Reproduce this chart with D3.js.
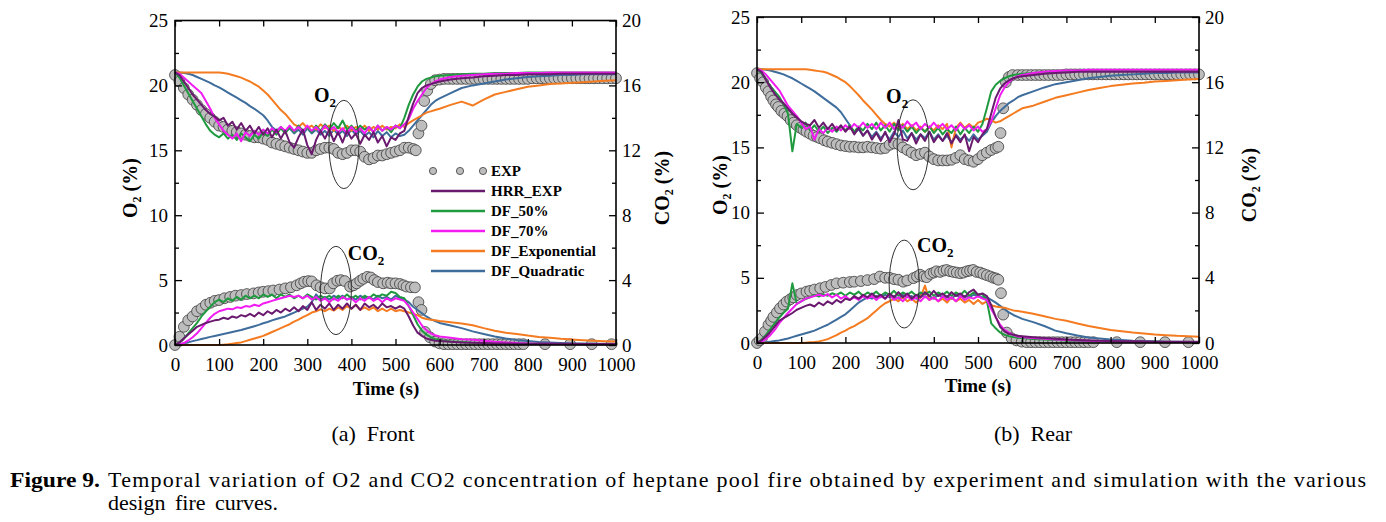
<!DOCTYPE html>
<html>
<head>
<meta charset="utf-8">
<script src="https://cdn.jsdelivr.net/npm/d3@7"></script>
<style>
  body { margin: 0; background: #fff; }
  svg, svg text { font-family: "Liberation Serif", "Times New Roman", Tinos, "DejaVu Serif Condensed", serif; }
  svg { display: block; }
  .tick text { font-size: 19px; fill: #000; }
  .tick line { stroke: #000; stroke-width: 1.3; }
  .axis-title { font-size: 20px; font-weight: bold; }
</style>
</head>
<body>
<div id="wrapper"></div>
<script>

// 1. Data

// simulation output sampled every 10 s up to 590 s, then every 25 s
const timeGrid = d3.range(0, 600, 10).concat(d3.range(600, 1001, 25));

const seriesNames = ["HRR_EXP", "DF_50%", "DF_70%", "DF_Exponential", "DF_Quadratic"];
const seriesColors = ["#6a1a6e", "#1f9a3f", "#f21cf2", "#f47b20", "#3e6d9c"];
const drawOrder = [4, 3, 1, 2, 0];

const xTicks = d3.range(0, 1001, 100);
const o2Ticks = [0, 5, 10, 15, 20, 25];
const o2MinorTicks = [2.5, 7.5, 12.5, 17.5, 22.5];
const co2Ticks = [0, 4, 8, 12, 16, 20];
const co2MinorTicks = [2, 6, 10, 14, 18];

// ---- (a) Front : O2 (%) ----
const frontO2Hrr = [
  21.0, 20.8, 20.3, 19.8, 19.3, 18.9, 18.5, 18.1, 17.8, 17.6,
  17.3, 17.5, 16.9, 17.2, 16.6, 17.1, 16.5, 16.9, 16.3, 16.8,
  16.2, 16.7, 16.0, 16.6, 15.9, 16.5, 15.6, 15.2, 16.0, 16.6,
  15.4, 14.7, 15.8, 16.5, 15.9, 16.6, 15.7, 16.4, 15.6, 16.5,
  15.9, 16.3, 15.5, 16.2, 15.8, 16.4, 15.6, 16.1, 15.3, 16.0,
  15.8, 16.3, 16.5, 17.6, 18.6, 19.4, 19.8, 20.0, 20.1, 20.2,
  20.3, 20.45, 20.55, 20.6, 20.7, 20.75, 20.8, 20.8, 20.85, 20.85, 20.85, 20.9, 20.9, 20.9, 20.9, 20.9, 20.9
];
const frontO2Df50 = [
  21.0, 20.6, 20.0, 19.4, 18.8, 18.2, 17.6, 17.0, 16.5, 16.2,
  16.0, 16.3, 15.9, 16.2, 15.8, 16.3, 16.0, 15.7, 16.2, 15.9,
  16.4, 16.1, 16.6, 16.2, 16.7, 16.3, 16.8, 16.4, 16.9, 16.5,
  16.8, 16.4, 16.9, 16.5, 17.0, 16.6, 17.1, 16.7, 17.3, 16.6,
  16.9, 16.5, 16.9, 16.6, 16.8, 16.4, 16.9, 16.5, 16.8, 16.4,
  16.9, 16.7, 17.5, 18.5, 19.3, 19.9, 20.3, 20.5, 20.6, 20.7,
  20.75, 20.8, 20.85, 20.9, 20.9, 20.95, 20.95, 20.95, 21.0, 21.0, 21.0, 21.0, 21.0, 21.0, 21.0, 21.0, 21.0
];
const frontO2Df70 = [
  21.0, 20.9, 20.6, 20.3, 20.0, 19.7, 19.4, 18.8, 18.2, 17.5,
  17.0, 16.5, 16.2, 15.9, 16.3, 15.7, 16.4, 16.1, 16.5, 16.2,
  16.6, 16.3, 16.7, 16.4, 16.8, 16.5, 16.9, 16.5, 16.8, 16.4,
  16.9, 16.5, 16.8, 16.4, 16.9, 16.5, 16.8, 16.4, 16.7, 16.3,
  16.8, 16.4, 16.7, 16.3, 16.8, 16.4, 16.9, 16.5, 16.8, 16.6,
  16.9, 16.7, 17.0, 17.4, 18.2, 18.8, 19.3, 19.8, 20.1, 20.3,
  20.45, 20.65, 20.75, 20.8, 20.85, 20.9, 20.9, 20.95, 20.95, 20.95, 21.0, 21.0, 21.0, 21.0, 21.0, 21.0, 21.0
];
const frontO2Exp = [
  21.0, 21.0, 21.0, 21.0, 21.0, 21.0, 21.0, 21.0, 21.0, 21.0,
  21.0, 20.95, 20.9, 20.8, 20.7, 20.6, 20.45, 20.3, 20.1, 19.9,
  19.6, 19.3, 18.9, 18.5, 18.1, 17.8, 17.4, 17.0, 16.8, 17.1,
  16.7, 16.9, 16.6, 17.0, 16.7, 16.9, 16.5, 16.8, 16.6, 16.9,
  16.5, 16.8, 16.6, 16.9, 16.5, 16.8, 16.6, 16.9, 16.6, 16.8,
  16.7, 17.0, 16.8, 17.1, 17.3, 17.5, 17.7, 17.9, 18.0, 18.1,
  18.2, 18.5, 18.75, 18.45, 18.9, 19.3, 19.5, 19.7, 19.9, 20.0, 20.1, 20.15, 20.2, 20.25, 20.3, 20.35, 20.4
];
const frontO2Quad = [
  21.0, 21.0, 20.95, 20.9, 20.8, 20.65, 20.5, 20.35, 20.2, 20.0,
  19.85, 19.65, 19.45, 19.25, 19.05, 18.85, 18.65, 18.4, 18.2, 17.95,
  17.7, 17.3, 16.8, 16.5, 16.8, 16.4, 16.7, 16.3, 16.6, 16.2,
  16.7, 16.3, 16.6, 16.2, 16.5, 16.1, 16.6, 16.2, 16.5, 16.1,
  16.6, 16.2, 16.5, 16.1, 16.4, 16.0, 16.5, 16.1, 16.4, 16.0,
  16.3, 16.1, 16.2, 16.5, 16.9, 17.3, 17.7, 18.1, 18.5, 18.8,
  19.0, 19.4, 19.8, 20.0, 20.15, 20.3, 20.45, 20.55, 20.65, 20.7, 20.75, 20.8, 20.8, 20.85, 20.85, 20.85, 20.85
];

// ---- (a) Front : CO2 (%) ----
const frontCo2Hrr = [
  0, 0.16, 0.4, 0.64, 0.88, 1.12, 1.24, 1.36, 1.44, 1.52,
  1.56, 1.68, 1.6, 1.76, 1.68, 1.84, 1.76, 1.92, 1.76, 2.0,
  1.84, 2.08, 1.92, 2.16, 2.0, 2.24, 2.08, 2.32, 2.08, 2.4,
  2.16, 2.64, 2.16, 2.48, 2.24, 2.56, 2.16, 2.48, 2.24, 2.56,
  2.24, 2.48, 2.16, 2.56, 2.32, 2.48, 2.24, 2.56, 2.32, 2.4,
  2.24, 2.4, 2.24, 1.76, 1.2, 0.76, 0.56, 0.4, 0.32, 0.26,
  0.24, 0.2, 0.16, 0.14, 0.12, 0.1, 0.1, 0.08, 0.08, 0.08, 0.07, 0.07, 0.07, 0.06, 0.06, 0.06, 0.06
];
const frontCo2Df50 = [
  0, 0.16, 0.4, 0.72, 1.04, 1.36, 1.76, 2.08, 2.36, 2.64,
  2.8, 2.64, 2.88, 2.72, 2.96, 2.8, 3.04, 2.88, 3.04, 2.88,
  3.12, 2.96, 3.12, 2.88, 3.12, 2.96, 3.12, 2.88, 3.04, 2.88,
  3.12, 2.96, 2.8, 3.04, 2.88, 3.04, 2.8, 3.04, 2.88, 3.12,
  2.88, 3.04, 2.8, 3.04, 2.88, 3.12, 2.96, 3.12, 3.04, 3.28,
  3.2, 2.96, 2.88, 2.4, 1.84, 1.28, 0.88, 0.64, 0.48, 0.36,
  0.3, 0.22, 0.18, 0.14, 0.12, 0.1, 0.09, 0.08, 0.07, 0.07, 0.06, 0.06, 0.06, 0.05, 0.05, 0.05, 0.05
];
const frontCo2Df70 = [
  0, 0.04, 0.12, 0.28, 0.48, 0.72, 1.04, 1.36, 1.68, 1.92,
  2.08, 2.16, 2.24, 2.2, 2.32, 2.28, 2.4, 2.36, 2.48, 2.4,
  2.56, 2.64, 2.72, 2.8, 2.88, 2.96, 3.04, 2.96, 3.04, 2.88,
  3.04, 2.8, 2.96, 2.72, 2.88, 2.64, 2.88, 2.72, 2.96, 2.8,
  2.88, 2.64, 2.88, 2.72, 2.96, 2.72, 2.88, 2.64, 2.88, 2.72,
  2.88, 2.8, 2.72, 2.4, 2.0, 1.6, 1.2, 0.92, 0.72, 0.6,
  0.52, 0.44, 0.36, 0.32, 0.26, 0.2, 0.16, 0.12, 0.1, 0.08, 0.07, 0.06, 0.06, 0.05, 0.05, 0.05, 0.05
];
const frontCo2Exp = [
  0, 0, 0, 0, 0, 0, 0, 0, 0, 0,
  0, 0.02, 0.04, 0.08, 0.12, 0.16, 0.24, 0.32, 0.4, 0.48,
  0.56, 0.68, 0.8, 0.92, 1.04, 1.16, 1.28, 1.44, 1.56, 1.72,
  1.84, 2.0, 2.08, 2.2, 2.08, 2.24, 2.12, 2.32, 2.16, 2.4,
  2.24, 2.48, 2.16, 2.32, 2.16, 2.32, 2.08, 2.24, 2.08, 2.24,
  2.08, 2.16, 2.08, 2.0, 1.92, 1.84, 1.68, 1.6, 1.56, 1.52,
  1.48, 1.4, 1.32, 1.22, 1.04, 0.88, 0.76, 0.68, 0.58, 0.5, 0.44, 0.38, 0.34, 0.3, 0.26, 0.23, 0.21
];
const frontCo2Quad = [
  0, 0.04, 0.1, 0.16, 0.24, 0.3, 0.37, 0.43, 0.5, 0.56,
  0.62, 0.68, 0.74, 0.8, 0.86, 0.92, 1.0, 1.08, 1.16, 1.24,
  1.34, 1.42, 1.52, 1.6, 1.68, 1.76, 1.88, 2.0, 2.12, 2.24,
  2.36, 2.64, 3.12, 2.8, 2.96, 2.8, 3.04, 2.88, 3.04, 2.8,
  2.96, 2.8, 3.04, 2.88, 2.96, 2.8, 3.04, 2.88, 2.96, 2.8,
  3.04, 2.88, 2.8, 2.64, 2.36, 2.16, 1.96, 1.76, 1.6, 1.48,
  1.36, 1.2, 1.04, 0.84, 0.68, 0.52, 0.4, 0.3, 0.24, 0.19, 0.16, 0.13, 0.1, 0.09, 0.08, 0.07, 0.06
];

// ---- (b) Rear : O2 (%) ----
const rearO2Hrr = [
  21.0, 20.8, 20.2, 19.6, 19.1, 18.7, 18.4, 18.0, 17.6, 17.3,
  17.0, 16.8, 16.7, 17.1, 16.5, 16.9, 16.4, 16.8, 16.3, 16.7,
  16.2, 16.6, 16.0, 16.5, 15.9, 16.3, 15.6, 16.1, 15.5, 16.2,
  15.4, 16.0, 17.1, 15.6, 15.5, 16.1, 15.3, 16.0, 15.5, 16.2,
  15.4, 15.9, 15.5, 16.1, 15.3, 15.9, 15.4, 16.0, 14.7, 15.8,
  15.4, 16.0, 16.4, 17.6, 18.8, 19.5, 19.9, 20.15, 20.3, 20.4,
  20.45, 20.55, 20.65, 20.7, 20.75, 20.8, 20.8, 20.8, 20.8, 20.8, 20.8, 20.8, 20.8, 20.8, 20.8, 20.8, 20.8
];
const rearO2Df50 = [
  21.0, 20.7, 20.2, 19.7, 19.3, 18.9, 18.3, 17.6, 14.7, 16.8,
  16.5, 16.9, 16.3, 16.7, 16.2, 16.6, 16.1, 16.5, 16.2, 16.6,
  16.3, 16.7, 16.2, 16.6, 16.3, 16.8, 16.4, 16.9, 16.3, 16.7,
  16.2, 16.8, 16.3, 16.7, 16.2, 16.6, 16.1, 16.5, 16.2, 16.6,
  16.1, 16.5, 16.0, 16.4, 16.1, 16.6, 16.0, 16.5, 16.1, 16.6,
  16.2, 16.8, 18.0, 19.3, 19.8, 20.1, 20.3, 20.45, 20.55, 20.6,
  20.65, 20.7, 20.75, 20.8, 20.85, 20.85, 20.9, 20.9, 20.9, 20.9, 20.9, 20.9, 20.9, 20.9, 20.9, 20.9, 20.9
];
const rearO2Df70 = [
  21.0, 20.9, 20.6, 20.2, 19.8, 19.4, 18.8, 18.2, 17.8, 17.4,
  16.9, 16.4, 16.6, 15.6, 16.4, 16.1, 16.5, 16.2, 16.6, 16.3,
  16.7, 16.4, 16.8, 16.5, 16.9, 16.5, 16.8, 16.4, 16.9, 16.5,
  16.9, 16.4, 16.8, 16.5, 17.0, 16.6, 16.9, 16.4, 16.8, 16.5,
  16.9, 16.5, 16.8, 16.4, 16.7, 16.3, 16.8, 16.4, 16.7, 16.3,
  16.6, 16.2, 16.4, 17.0, 18.0, 19.0, 19.6, 20.0, 20.3, 20.45,
  20.55, 20.7, 20.8, 20.85, 20.9, 20.9, 20.95, 20.95, 20.95, 20.95, 20.95, 20.95, 20.95, 20.95, 20.95, 20.95, 20.95
];
const rearO2Exp = [
  21.0, 21.0, 21.0, 21.0, 21.0, 21.0, 21.0, 21.0, 21.0, 21.0,
  21.0, 21.0, 20.95, 20.9, 20.85, 20.8, 20.7, 20.55, 20.4, 20.2,
  20.0, 19.7, 19.35, 19.0, 18.6, 18.25, 17.9, 17.5, 17.1, 16.8,
  16.6, 16.9, 16.5, 16.8, 16.4, 16.7, 16.3, 16.6, 16.2, 16.6,
  16.3, 16.7, 16.4, 16.8, 15.0, 16.5, 16.9, 16.5, 16.8, 16.5,
  16.9, 17.0, 17.2, 17.1, 16.9, 17.0, 17.2, 17.4, 17.6, 17.8,
  18.0, 18.2, 18.5, 18.8, 19.0, 19.2, 19.4, 19.55, 19.7, 19.8, 19.9, 19.95, 20.05, 20.1, 20.15, 20.2, 20.25
];
const rearO2Quad = [
  21.0, 21.0, 20.95, 20.9, 20.8, 20.7, 20.6, 20.45, 20.3, 20.1,
  19.9, 19.7, 19.5, 19.3, 19.05, 18.8, 18.55, 18.3, 18.05, 17.7,
  17.2, 16.7, 16.1, 16.4, 15.9, 16.3, 15.8, 16.2, 15.7, 16.1,
  15.6, 16.2, 15.8, 16.3, 15.7, 16.1, 15.6, 16.0, 15.7, 16.2,
  15.6, 16.0, 15.5, 15.9, 15.4, 16.0, 15.6, 15.9, 15.5, 16.0,
  15.6, 15.9, 16.2, 16.9, 17.4, 17.8, 18.1, 18.4, 18.6, 18.85,
  19.0, 19.3, 19.6, 19.85, 20.0, 20.15, 20.3, 20.4, 20.5, 20.55, 20.6, 20.65, 20.7, 20.7, 20.75, 20.75, 20.75
];

// ---- (b) Rear : CO2 (%) ----
const rearCo2Hrr = [
  0, 0.16, 0.4, 0.68, 1.0, 1.36, 1.52, 1.68, 1.84, 2.04,
  2.16, 2.28, 2.36, 2.24, 2.48, 2.32, 2.56, 2.4, 2.64, 2.48,
  2.72, 2.64, 2.88, 2.72, 2.96, 2.8, 3.04, 2.8, 2.96, 2.72,
  3.04, 2.8, 3.12, 2.8, 3.04, 2.72, 2.96, 2.8, 3.12, 2.88,
  3.2, 2.88, 3.04, 2.8, 3.12, 2.88, 3.04, 2.8, 3.12, 3.28,
  2.96, 3.04, 2.88, 2.32, 1.6, 1.0, 0.72, 0.56, 0.5, 0.45,
  0.42, 0.36, 0.3, 0.26, 0.22, 0.19, 0.16, 0.14, 0.12, 0.1, 0.1, 0.09, 0.08, 0.07, 0.07, 0.07, 0.07
];
const rearCo2Df50 = [
  0, 0.2, 0.5, 0.85, 1.2, 1.55, 1.85, 2.1, 3.66, 2.4,
  2.55, 2.7, 2.8, 2.95, 2.85, 3.0, 2.9, 3.05, 2.95, 3.1,
  2.9, 3.1, 2.95, 3.15, 2.9, 3.1, 2.95, 3.15, 2.9, 3.1,
  2.95, 3.2, 2.9, 3.1, 2.95, 3.15, 2.9, 3.1, 2.95, 3.15,
  2.9, 3.1, 2.95, 3.15, 2.9, 3.1, 2.95, 3.2, 2.9, 3.1,
  2.95, 3.0, 2.6, 1.2, 0.9, 0.65, 0.5, 0.42, 0.36, 0.32,
  0.3, 0.25, 0.21, 0.18, 0.15, 0.13, 0.11, 0.1, 0.09, 0.08, 0.08, 0.07, 0.07, 0.06, 0.06, 0.06, 0.06
];
const rearCo2Df70 = [
  0, 0.08, 0.24, 0.48, 0.8, 1.2, 1.52, 1.84, 2.12, 2.4,
  2.56, 2.72, 2.8, 2.88, 2.96, 2.88, 3.0, 2.8, 2.96, 2.72,
  2.88, 2.64, 2.8, 2.64, 2.88, 2.72, 2.88, 2.64, 2.88, 2.72,
  2.96, 2.64, 2.8, 2.56, 2.88, 2.64, 2.8, 2.56, 2.88, 2.64,
  2.8, 2.56, 2.88, 2.64, 2.8, 2.56, 2.88, 2.64, 2.8, 2.72,
  2.88, 2.72, 2.64, 2.08, 1.6, 1.12, 0.8, 0.64, 0.5, 0.4,
  0.36, 0.3, 0.26, 0.22, 0.19, 0.16, 0.14, 0.11, 0.1, 0.08, 0.07, 0.07, 0.06, 0.06, 0.06, 0.06, 0.06
];
const rearCo2Exp = [
  0, 0, 0, 0, 0, 0, 0, 0, 0, 0,
  0, 0.02, 0.04, 0.06, 0.1, 0.16, 0.24, 0.36, 0.48, 0.64,
  0.76, 0.92, 1.04, 1.2, 1.36, 1.52, 1.76, 2.0, 2.24, 2.44,
  2.56, 2.72, 2.56, 2.8, 2.56, 2.72, 2.48, 2.8, 3.52, 2.64,
  2.8, 2.56, 2.72, 2.48, 2.8, 2.56, 2.72, 2.48, 2.64, 2.4,
  2.64, 2.4, 2.56, 2.32, 2.24, 2.2, 2.16, 2.08, 2.0, 1.96,
  1.92, 1.8, 1.64, 1.48, 1.36, 1.2, 1.04, 0.92, 0.8, 0.72, 0.64, 0.58, 0.52, 0.48, 0.44, 0.42, 0.38
];
const rearCo2Quad = [
  0, 0.02, 0.04, 0.08, 0.12, 0.16, 0.22, 0.28, 0.36, 0.44,
  0.52, 0.6, 0.68, 0.76, 0.88, 1.0, 1.12, 1.28, 1.44, 1.6,
  1.76, 2.0, 2.24, 2.48, 2.64, 2.8, 2.72, 2.88, 2.8, 2.96,
  2.8, 2.88, 2.72, 2.96, 2.8, 2.88, 2.72, 2.96, 2.8, 2.88,
  2.72, 2.96, 2.8, 2.88, 2.72, 2.96, 2.8, 2.88, 2.8, 2.96,
  2.88, 2.8, 2.8, 2.64, 2.48, 2.28, 2.08, 1.88, 1.72, 1.6,
  1.48, 1.28, 1.04, 0.76, 0.6, 0.46, 0.34, 0.28, 0.22, 0.18, 0.14, 0.12, 0.1, 0.08, 0.07, 0.06, 0.06
];

// ---- experiment (time s, value %) ----
const expFrontO2 = [
  [0, 20.8], [10, 20.3], [20, 19.8], [30, 19.3], [40, 18.9], [50, 18.5], [60, 18.1], [70, 17.8], [80, 17.5], [90, 17.2],
  [100, 16.9], [110, 16.8], [120, 16.6], [130, 16.5], [140, 16.4], [150, 16.3], [160, 16.2], [170, 16.1], [180, 16.0], [190, 16.0],
  [200, 15.9], [210, 15.8], [220, 15.6], [230, 15.5], [240, 15.4], [250, 15.3], [260, 15.2], [270, 15.1], [280, 15.0], [290, 14.9],
  [300, 14.8], [310, 14.8], [320, 15.0], [330, 15.1], [340, 15.2], [350, 15.2], [360, 15.1], [370, 14.8], [380, 14.7], [390, 14.8],
  [400, 15.0], [410, 15.0], [420, 14.9], [430, 14.5], [440, 14.3], [450, 14.4], [460, 14.6], [470, 14.6], [480, 14.7], [490, 14.8],
  [500, 14.9], [510, 15.0], [520, 15.2], [530, 15.2], [540, 15.1], [546, 15.0], [552, 16.3], [559, 16.9], [565, 18.8], [572, 19.6],
  [580, 20.1], [590, 20.4], [600, 20.45], [610, 20.5], [620, 20.5], [630, 20.5], [640, 20.5], [650, 20.5], [660, 20.5], [670, 20.5],
  [680, 20.5], [690, 20.5], [700, 20.5], [710, 20.5], [720, 20.5], [730, 20.5], [740, 20.5], [750, 20.5], [760, 20.5], [770, 20.5],
  [780, 20.5], [790, 20.5], [800, 20.5], [810, 20.55], [820, 20.55], [830, 20.55], [840, 20.55], [850, 20.55], [860, 20.55], [870, 20.55],
  [880, 20.55], [890, 20.55], [900, 20.55], [910, 20.55], [920, 20.55], [930, 20.55], [940, 20.55], [950, 20.55], [960, 20.55], [970, 20.55],
  [980, 20.55], [990, 20.55], [1000, 20.55]
];
const expFrontCo2 = [
  [0, 0], [10, 0.51], [20, 1.12], [30, 1.52], [40, 1.76], [50, 2.08], [60, 2.24], [70, 2.48], [80, 2.6], [90, 2.72],
  [100, 2.77], [112, 2.88], [125, 2.96], [137, 3.04], [150, 3.08], [163, 3.14], [178, 3.18], [190, 3.24], [200, 3.28], [212, 3.32],
  [223, 3.36], [237, 3.42], [250, 3.49], [263, 3.56], [276, 3.68], [285, 3.8], [293, 3.9], [302, 3.94], [310, 3.92], [321, 3.68],
  [330, 3.56], [340, 3.49], [351, 3.49], [359, 3.8], [368, 3.96], [376, 4.0], [385, 3.94], [397, 3.6], [405, 3.68], [412, 3.8],
  [420, 3.96], [427, 4.08], [436, 4.2], [444, 4.16], [452, 4.0], [460, 3.88], [472, 3.8], [482, 3.84], [490, 3.8], [500, 3.8],
  [510, 3.76], [518, 3.68], [525, 3.6], [535, 3.56], [544, 3.55], [552, 2.64], [559, 2.16], [567, 0.8], [578, 0.48], [590, 0.21],
  [600, 0.1], [610, 0.05], [620, 0.05], [630, 0.05], [640, 0.05], [650, 0.05], [660, 0.05], [670, 0.05], [680, 0.05], [690, 0.05],
  [700, 0.05], [710, 0.05], [720, 0.05], [730, 0.05], [740, 0.05], [750, 0.05], [760, 0.05], [770, 0.05], [780, 0.05], [790, 0.05],
  [839, 0.05], [896, 0.05], [945, 0.05], [990, 0.05]
];
const expRearO2 = [
  [0, 20.7], [7, 20.3], [14, 20.0], [20, 19.6], [26, 19.3], [32, 18.9], [37, 18.6], [43, 18.3], [48, 18.1], [55, 17.8],
  [62, 17.6], [69, 17.4], [76, 17.1], [83, 16.9], [90, 16.7], [98, 16.5], [105, 16.35], [112, 16.2], [120, 16.05], [128, 15.9],
  [136, 15.8], [143, 15.7], [152, 15.55], [160, 15.45], [170, 15.35], [180, 15.25], [190, 15.15], [200, 15.1], [210, 15.05], [220, 15.05],
  [230, 15.0], [240, 15.0], [250, 15.05], [260, 15.0], [270, 14.95], [280, 14.9], [290, 14.95], [300, 15.2], [310, 15.3], [320, 15.25],
  [330, 15.0], [340, 14.8], [350, 14.6], [360, 14.4], [370, 14.5], [380, 14.6], [390, 14.3], [400, 14.1], [410, 14.0], [420, 14.0],
  [430, 14.0], [440, 14.05], [450, 14.2], [460, 14.4], [470, 14.1], [480, 14.0], [490, 13.9], [500, 14.1], [510, 14.4], [520, 14.6],
  [530, 14.8], [540, 14.95], [546, 15.05], [551, 16.1], [557, 18.0], [563, 20.0], [570, 20.4], [578, 20.55], [590, 20.55], [600, 20.55],
  [610, 20.55], [620, 20.55], [630, 20.55], [640, 20.55], [650, 20.55], [660, 20.55], [670, 20.55], [680, 20.55], [690, 20.55], [700, 20.6],
  [710, 20.6], [720, 20.6], [730, 20.6], [740, 20.6], [750, 20.6], [760, 20.6], [770, 20.6], [780, 20.6], [790, 20.6], [800, 20.6],
  [810, 20.6], [820, 20.6], [830, 20.6], [840, 20.6], [850, 20.6], [860, 20.6], [870, 20.6], [880, 20.6], [890, 20.6], [900, 20.6],
  [910, 20.6], [920, 20.6], [930, 20.6], [940, 20.6], [950, 20.6], [960, 20.6], [970, 20.6], [980, 20.6], [990, 20.6], [1000, 20.6]
];
const expRearCo2 = [
  [0, 0], [6, 0.16], [11, 0.29], [18, 0.7], [26, 1.12], [32, 1.36], [37, 1.6], [45, 1.88], [52, 2.13], [60, 2.36],
  [67, 2.54], [75, 2.68], [82, 2.8], [90, 2.94], [100, 3.04], [112, 3.15], [120, 3.2], [130, 3.28], [143, 3.36], [155, 3.44],
  [168, 3.56], [180, 3.66], [195, 3.7], [210, 3.74], [220, 3.76], [235, 3.8], [250, 3.86], [265, 3.92], [278, 4.08], [290, 4.0],
  [300, 4.0], [310, 3.92], [320, 3.88], [331, 3.76], [340, 3.84], [354, 3.98], [362, 4.08], [369, 4.19], [377, 4.08], [384, 4.04],
  [392, 4.24], [400, 4.32], [406, 4.4], [414, 4.36], [422, 4.44], [429, 4.48], [437, 4.4], [444, 4.36], [452, 4.32], [460, 4.28],
  [467, 4.32], [475, 4.4], [482, 4.44], [489, 4.48], [497, 4.36], [505, 4.32], [512, 4.24], [520, 4.16], [528, 4.08], [535, 4.0],
  [541, 3.96], [546, 3.88], [552, 3.06], [557, 1.74], [565, 0.64], [576, 0.29], [587, 0.16], [599, 0.08], [610, 0.05], [620, 0.05],
  [630, 0.05], [640, 0.05], [650, 0.05], [660, 0.05], [670, 0.05], [680, 0.05], [690, 0.05], [700, 0.05], [710, 0.05], [720, 0.05],
  [730, 0.05], [740, 0.05], [750, 0.05], [761, 0.05], [814, 0.05], [867, 0.05], [923, 0.05], [976, 0.05]
];

// 2. Chart dimensions

const dimensions = { width: 1386, height: 522 };

const panels = [
  {
    caption: "(a)  Front", captionX: 373,
    left: 175, right: 616, top: 20.5, bottom: 345,
    o2: [frontO2Hrr, frontO2Df50, frontO2Df70, frontO2Exp, frontO2Quad],
    co2: [frontCo2Hrr, frontCo2Df50, frontCo2Df70, frontCo2Exp, frontCo2Quad],
    expO2: expFrontO2, expCo2: expFrontCo2,
    // ellipse marks: centre (t, O2-axis value) and half sizes in data units
    rings: [
      { label: "O", t: 383, v: 15.45, rt: 34, rv: 3.4, lt: 315, lv: 18.7 },
      { label: "CO", t: 365, v: 4.2, rt: 35, rv: 3.4, lt: 392, lv: 6.55 },
    ],
    legend: true,
    o2TitleX: 137, co2TitleX: 669, titleY: 188, timeX: 386, timeY: 395,
  },
  {
    caption: "(b)  Rear", captionX: 1033,
    left: 757, right: 1199, top: 17, bottom: 343,
    o2: [rearO2Hrr, rearO2Df50, rearO2Df70, rearO2Exp, rearO2Quad],
    co2: [rearCo2Hrr, rearCo2Df50, rearCo2Df70, rearCo2Exp, rearCo2Quad],
    expO2: expRearO2, expCo2: expRearCo2,
    rings: [
      { label: "O", t: 353, v: 15.2, rt: 36, rv: 3.45, lt: 292, lv: 18.4 },
      { label: "CO", t: 333, v: 4.52, rt: 34, rv: 3.37, lt: 362, lv: 6.98 },
    ],
    legend: false,
    o2TitleX: 727, co2TitleX: 1256, titleY: 185, timeX: 978, timeY: 392,
  },
];

// 3. Draw canvas

const wrapper = d3.select("#wrapper")
  .append("svg")
  .attr("width", dimensions.width)
  .attr("height", dimensions.height);

// 4. Draw panels

function drawPanel(p) {
  const xScale = d3.scaleLinear().domain([0, 1000]).range([p.left, p.right]);
  const o2Scale = d3.scaleLinear().domain([0, 25]).range([p.bottom, p.top]);
  const co2Scale = d3.scaleLinear().domain([0, 20]).range([p.bottom, p.top]);

  const bounds = wrapper.append("g");

  // experiment circles first, simulation lines on top
  const expGroup = bounds.append("g");
  const drawExp = (data, yScale) => {
    expGroup.selectAll(null)
      .data(data)
      .join("circle")
      .attr("cx", d => xScale(d[0]))
      .attr("cy", d => yScale(d[1]))
      .attr("r", 5.4)
      .attr("fill", "#bdbdbd")
      .attr("stroke", "#3a3a3a")
      .attr("stroke-width", 0.8);
  };
  drawExp(p.expO2, o2Scale);
  drawExp(p.expCo2, co2Scale);

  const lineGroup = bounds.append("g");
  const lineFor = yScale => d3.line()
    .x((d, i) => xScale(timeGrid[i]))
    .y(d => yScale(d));

  drawOrder.forEach(i => {
    lineGroup.append("path")
      .attr("d", lineFor(o2Scale)(p.o2[i]))
      .attr("fill", "none")
      .attr("stroke", seriesColors[i])
      .attr("stroke-width", 2)
      .attr("stroke-linejoin", "round");
    lineGroup.append("path")
      .attr("d", lineFor(co2Scale)(p.co2[i]))
      .attr("fill", "none")
      .attr("stroke", seriesColors[i])
      .attr("stroke-width", 2)
      .attr("stroke-linejoin", "round");
  });

  // 5. Peripherals

  const axisStyle = g => {
    g.attr("font-family", null);
    g.select(".domain").remove();
  };

  bounds.append("g")
    .attr("transform", `translate(0, ${p.bottom})`)
    .call(d3.axisBottom(xScale).tickValues(xTicks).tickFormat(d3.format("d")).tickSize(-6).tickPadding(13))
    .call(axisStyle);
  bounds.append("g")
    .attr("transform", `translate(0, ${p.top})`)
    .call(d3.axisTop(xScale).tickValues(xTicks).tickSize(-6).tickFormat(""))
    .call(axisStyle);

  bounds.append("g")
    .attr("transform", `translate(${p.left}, 0)`)
    .call(d3.axisLeft(o2Scale).tickValues(o2Ticks).tickSize(-7).tickPadding(7))
    .call(axisStyle);
  bounds.append("g")
    .attr("transform", `translate(${p.left}, 0)`)
    .call(d3.axisLeft(o2Scale).tickValues(o2MinorTicks).tickSize(-4).tickFormat(""))
    .call(axisStyle);

  bounds.append("g")
    .attr("transform", `translate(${p.right}, 0)`)
    .call(d3.axisRight(co2Scale).tickValues(co2Ticks).tickSize(-7).tickPadding(6))
    .call(axisStyle);
  bounds.append("g")
    .attr("transform", `translate(${p.right}, 0)`)
    .call(d3.axisRight(co2Scale).tickValues(co2MinorTicks).tickSize(-4).tickFormat(""))
    .call(axisStyle);

  bounds.append("rect")
    .attr("x", p.left)
    .attr("y", p.top)
    .attr("width", p.right - p.left)
    .attr("height", p.bottom - p.top)
    .attr("fill", "none")
    .attr("stroke", "#000")
    .attr("stroke-width", 1.6);

  // axis titles
  const o2Title = bounds.append("text")
    .attr("class", "axis-title")
    .attr("transform", `translate(${p.o2TitleX}, ${p.titleY}) rotate(-90)`)
    .attr("text-anchor", "middle");
  o2Title.append("tspan").text("O");
  o2Title.append("tspan").attr("font-size", 12).attr("dy", 4).text("2");
  o2Title.append("tspan").attr("dy", -4).text(" (%)");

  const co2Title = bounds.append("text")
    .attr("class", "axis-title")
    .attr("transform", `translate(${p.co2TitleX}, ${p.titleY}) rotate(-90)`)
    .attr("text-anchor", "middle");
  co2Title.append("tspan").text("CO");
  co2Title.append("tspan").attr("font-size", 12).attr("dy", 4).text("2");
  co2Title.append("tspan").attr("dy", -4).text(" (%)");

  bounds.append("text")
    .attr("class", "axis-title")
    .attr("x", p.timeX)
    .attr("y", p.timeY)
    .attr("text-anchor", "middle")
    .attr("font-size", 19)
    .style("font-size", "19px")
    .text("Time (s)");

  // ellipse marks for the O2 and CO2 groups
  p.rings.forEach(r => {
    bounds.append("ellipse")
      .attr("cx", xScale(r.t))
      .attr("cy", o2Scale(r.v))
      .attr("rx", xScale(r.rt) - xScale(0))
      .attr("ry", o2Scale(0) - o2Scale(r.rv))
      .attr("fill", "none")
      .attr("stroke", "#333")
      .attr("stroke-width", 1);
    const label = bounds.append("text")
      .attr("x", xScale(r.lt))
      .attr("y", o2Scale(r.lv))
      .attr("font-size", 20)
      .attr("font-weight", "bold");
    label.append("tspan").text(r.label);
    label.append("tspan").attr("font-size", 13).attr("dy", 5).text("2");
  });

  // legend
  if (p.legend) {
    const legend = bounds.append("g").attr("transform", "translate(431, 171)");
    const rowGap = 20;
    [2, 29, 52].forEach(cx => {
      legend.append("circle")
        .attr("cx", cx).attr("cy", 0).attr("r", 3.6)
        .attr("fill", "#bdbdbd").attr("stroke", "#3a3a3a").attr("stroke-width", 0.8);
    });
    legend.append("text")
      .attr("x", 60).attr("y", 5)
      .attr("font-size", 15).attr("font-weight", "bold")
      .text("EXP");
    seriesNames.forEach((name, i) => {
      const y = (i + 1) * rowGap;
      legend.append("line")
        .attr("x1", 0).attr("x2", 54)
        .attr("y1", y).attr("y2", y)
        .attr("stroke", seriesColors[i]).attr("stroke-width", 2.4);
      legend.append("text")
        .attr("x", 60).attr("y", y + 5)
        .attr("font-size", 15).attr("font-weight", "bold")
        .text(name);
    });
  }

  // sub caption
  wrapper.append("text")
    .attr("x", p.captionX)
    .attr("y", 441)
    .attr("text-anchor", "middle")
    .attr("font-size", 22)
    .style("white-space", "pre")
    .text(p.caption);
}

panels.forEach(drawPanel);

// 6. Figure caption

wrapper.append("text")
  .attr("x", 10).attr("y", 487)
  .attr("font-size", 22).attr("font-weight", "bold")
  .attr("textLength", 90)
  .attr("lengthAdjust", "spacingAndGlyphs")
  .text("Figure 9.");
wrapper.append("text")
  .attr("x", 108).attr("y", 487)
  .attr("font-size", 22)
  .attr("textLength", 1258)
  .attr("lengthAdjust", "spacing")
  .text("Temporal variation of O2 and CO2 concentration of heptane pool fire obtained by experiment and simulation with the various");
wrapper.append("text")
  .attr("x", 108).attr("y", 510)
  .attr("font-size", 22)
  .attr("word-spacing", 4)
  .text("design fire curves.");

</script>
</body>
</html>
